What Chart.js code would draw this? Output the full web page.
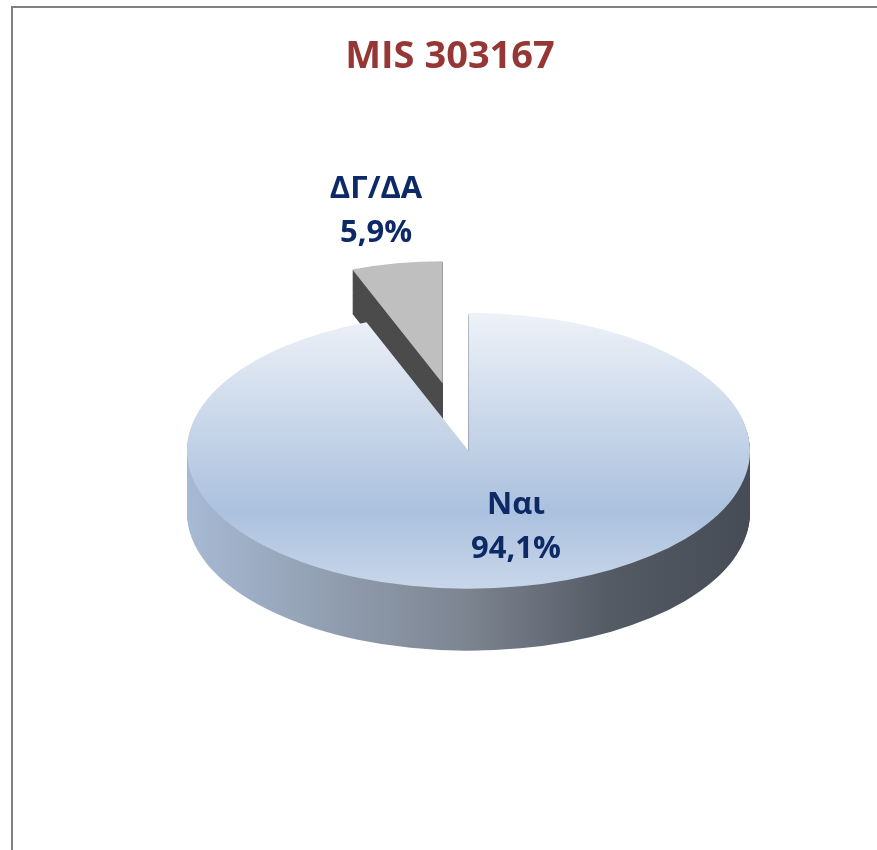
<!DOCTYPE html>
<html>
<head>
<meta charset="utf-8">
<title>MIS 303167</title>
<script src="https://cdn.jsdelivr.net/npm/chart.js@4.4.1/dist/chart.umd.min.js"></script>
<style>
  html, body { margin: 0; padding: 0; background: #fff; overflow: hidden; }
  #frame { position: absolute; left: 11px; top: 6px; width: 900px; height: 900px;
           border-left: 2px solid #808080; border-top: 2px solid #808080; }
  #pie { position: absolute; left: 0; top: 0; }
</style>
</head>
<body>
<div id="frame"></div>
<canvas id="pie" width="877" height="850"></canvas>
<script>
// data
const labels = ['Ναι', 'ΔΓ/ΔΑ'];
const shares = [94.1, 5.9];

// look of the 3d pie
const TILT = 0.49;          // vertical squash of the disc
const DEPTH = 62;           // thickness of the disc
const BACK_DEPTH = 50;      // thickness of the pulled out slice
const EXPLODE = 140;        // how far the small slice is pulled out
const BACK_SCALE = 0.886;   // pulled out slice looks a bit smaller (further away)
const SHIFT_X = 18.5;       // pie sits a little right of the title
const LABEL_RADIUS = [0.55, 1.45];
const LABEL_NUDGE_X = [19, 0];
const LABEL_LINE = 44;
const LABEL_COLOR = '#0d2a66';

function pct(v) {
    return v.toFixed(1).replace('.', ',') + '%';
}

const pie3d = {
    id: 'pie3d',
    beforeDatasetsDraw(chart) {
        const ctx = chart.ctx;
        const arcs = chart.getDatasetMeta(0).data;
        const cx = arcs[0].x, cy = arcs[0].y, R = arcs[0].outerRadius;
        const sx = cx + SHIFT_X, sy = cy;

        const topGrad = ctx.createLinearGradient(0, cy - R, 0, cy + R);
        topGrad.addColorStop(0, '#eef2f8');
        topGrad.addColorStop(0.45, '#c4d3e7');
        topGrad.addColorStop(0.72, '#abc1de');
        topGrad.addColorStop(1, '#c8d6e9');

        const sideGrad = ctx.createLinearGradient(cx - R, 0, cx + R, 0);
        sideGrad.addColorStop(0, '#a7b9d4');
        sideGrad.addColorStop(0.2, '#96a4b8');
        sideGrad.addColorStop(0.5, '#7c8490');
        sideGrad.addColorStop(0.75, '#545b65');
        sideGrad.addColorStop(1, '#454c55');

        const looks = [
            {top: topGrad, side: sideGrad, explode: 0, scale: 1, depth: DEPTH},
            {top: '#bfbfbf', side: '#4b4b4b', explode: EXPLODE, scale: BACK_SCALE, depth: BACK_DEPTH}
        ];

        function anchor(arc, look) {
            const mid = (arc.startAngle + arc.endAngle) / 2;
            return {
                mid: mid,
                x: sx + look.explode * Math.cos(mid),
                y: sy + TILT * look.explode * Math.sin(mid)
            };
        }

        function paint(arc, a, s, dy, fill) {
            const copy = Object.create(arc);
            copy.options = Object.assign({}, arc.options,
                {backgroundColor: fill, borderWidth: 0, offset: 0, spacing: 0});
            ctx.save();
            ctx.translate(a.x, a.y + dy);
            ctx.scale(s, s * TILT);
            ctx.translate(-cx, -cy);
            copy.draw(ctx);
            ctx.restore();
        }

        // back slice first, then the big one in front
        [1, 0].forEach(i => {
            const arc = arcs[i];
            const look = looks[i];
            const a = anchor(arc, look);
            for (let d = look.depth; d >= 1; d--) {
                paint(arc, a, look.scale, d * look.scale, look.side);
            }
            paint(arc, a, look.scale, 0, look.top);
        });

        // data labels
        ctx.save();
        ctx.font = 'bold 31px "Open Sans"';
        ctx.fillStyle = LABEL_COLOR;
        ctx.textAlign = 'center';
        ctx.textBaseline = 'alphabetic';
        arcs.forEach((arc, i) => {
            const look = looks[i];
            const a = anchor(arc, look);
            const r = LABEL_RADIUS[i] * R * look.scale;
            const px = a.x + r * Math.cos(a.mid) + LABEL_NUDGE_X[i];
            const py = a.y + TILT * r * Math.sin(a.mid);
            ctx.fillText(labels[i], px, py - LABEL_LINE / 2 + 11);
            ctx.fillText(pct(shares[i]), px, py + LABEL_LINE / 2 + 11);
        });
        ctx.restore();

        return false;
    }
};

new Chart(document.getElementById('pie'), {
    type: 'pie',
    data: {
        labels: labels,
        datasets: [{
            data: shares,
            backgroundColor: ['#b8cce4', '#bfbfbf'],
            borderWidth: 0
        }]
    },
    options: {
        responsive: false,
        animation: false,
        events: [],
        radius: 281.5,
        layout: {padding: {left: 23, right: 0, top: 0, bottom: 28}},
        plugins: {
            legend: {display: false},
            tooltip: {enabled: false},
            title: {
                display: true,
                text: 'MIS 303167',
                color: '#953735',
                font: {family: 'Open Sans', size: 38, weight: 'bold'},
                padding: {top: 34, bottom: 0}
            }
        }
    },
    plugins: [pie3d]
});
</script>
</body>
</html>
